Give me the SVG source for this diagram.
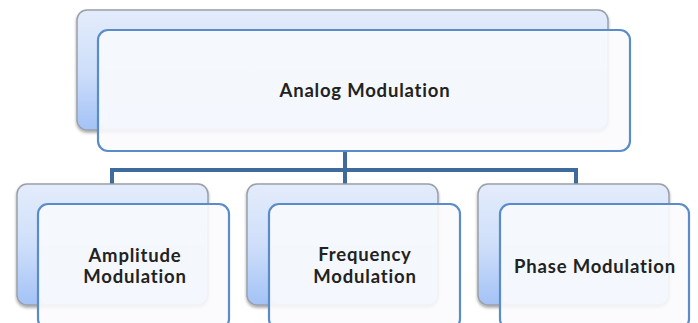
<svg xmlns="http://www.w3.org/2000/svg" width="698" height="323" viewBox="0 0 698 323">
<defs>
<linearGradient id="bg" x1="0" y1="0" x2="0" y2="1">
<stop offset="0" stop-color="#e3ecfb"/>
<stop offset="0.5" stop-color="#cfdffa"/>
<stop offset="1" stop-color="#a3c2f6"/>
</linearGradient>
<filter id="sh" x="-10%" y="-10%" width="120%" height="130%">
<feDropShadow dx="0" dy="2" stdDeviation="1.5" flood-color="#000" flood-opacity="0.35"/>
</filter>
</defs>
<style>
.back{fill:url(#bg);stroke:#9aa0a8;stroke-width:1.5;filter:url(#sh)}
.front{fill:#fbfbfd;fill-opacity:0.9;stroke:#5b8cca;stroke-width:2.2}
.inner{fill:#f4f7fd;opacity:0.8}
.conn{fill:none;stroke:#3f6b9c;stroke-width:4}
text{font-family:Lato,"Open Sans",sans-serif;font-size:18.5px;font-weight:bold;letter-spacing:0.8px;font-variant-ligatures:none;fill:#222;text-anchor:middle}
</style>
<rect width="698" height="323" fill="#fff"/>
<g id="connectors">
<path class="conn" d="M345 150V170M112 170H576M112 168V186M345 168V186M576 168V186"/>
</g>
<g id="analog">
<rect class="back" x="77" y="10" width="531" height="120" rx="10"/>
<rect class="front" x="98" y="30" width="532" height="121" rx="10"/>
<rect class="inner" x="100" y="32" width="507" height="96" rx="8"/>
<text x="365" y="97">Analog Modulation</text>
</g>
<g id="amplitude">
<rect class="back" x="17" y="184" width="191" height="121" rx="10"/>
<rect class="front" x="38" y="204" width="191" height="125" rx="10"/>
<rect class="inner" x="40" y="206" width="166" height="98" rx="8"/>
<text x="135" y="262">Amplitude</text>
<text x="135" y="283">Modulation</text>
</g>
<g id="frequency">
<rect class="back" x="247" y="184" width="191" height="121" rx="10"/>
<rect class="front" x="269" y="204" width="191" height="125" rx="10"/>
<rect class="inner" x="271" y="206" width="166" height="98" rx="8"/>
<text x="365" y="261">Frequency</text>
<text x="365" y="283">Modulation</text>
</g>
<g id="phase">
<rect class="back" x="478" y="184" width="191" height="121" rx="10"/>
<rect class="front" x="500" y="204" width="189" height="125" rx="10"/>
<rect class="inner" x="502" y="206" width="166" height="98" rx="8"/>
<text x="595" y="273">Phase Modulation</text>
</g>
</svg>
